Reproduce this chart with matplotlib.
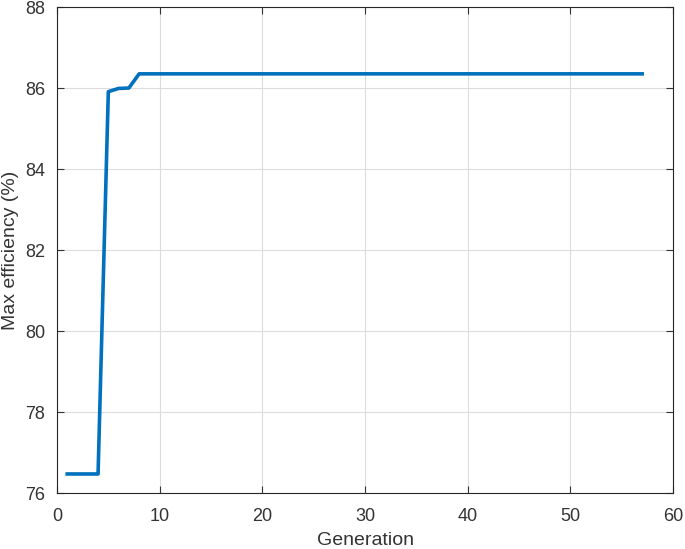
import numpy as np
import matplotlib.pyplot as plt

# Datos
generacion = np.arange(1, 58)
eficiencia = [76.47, 76.47, 76.47, 76.47, 85.91, 85.99, 86.0] + [86.35] * 50

plt.rcParams['font.family'] = ['Liberation Sans', 'DejaVu Sans']

fig = plt.figure(figsize=(6.85, 5.49), dpi=100)
ax = fig.add_axes([0.0832, 0.1020, 0.8993, 0.8852])

ax.plot(generacion, eficiencia, color="#0072BD", linewidth=2.6)

ax.set_xlim(0, 60)
ax.set_ylim(76, 88)
ax.set_xticks(np.arange(0, 61, 10))
ax.set_yticks(np.arange(76, 89, 2))
ax.grid(True, color="#DCDCDC", linewidth=0.8)
ax.set_axisbelow(True)

for s in ax.spines.values():
    s.set_color("#262626")
    s.set_linewidth(0.8)
ax.tick_params(direction='in', length=5, width=0.8, colors="#333333",
               labelsize=13, top=True, right=True, labeltop=False, labelright=False)
ax.tick_params(axis='x', pad=10.5)
ax.tick_params(axis='y', pad=8.5)

ax.set_xlabel("Generation", fontsize=14, color="#333333", labelpad=5)
ax.set_ylabel("Max efficiency (%)", fontsize=14, color="#333333", labelpad=4.5)

fig.savefig("out.png", dpi=100)
